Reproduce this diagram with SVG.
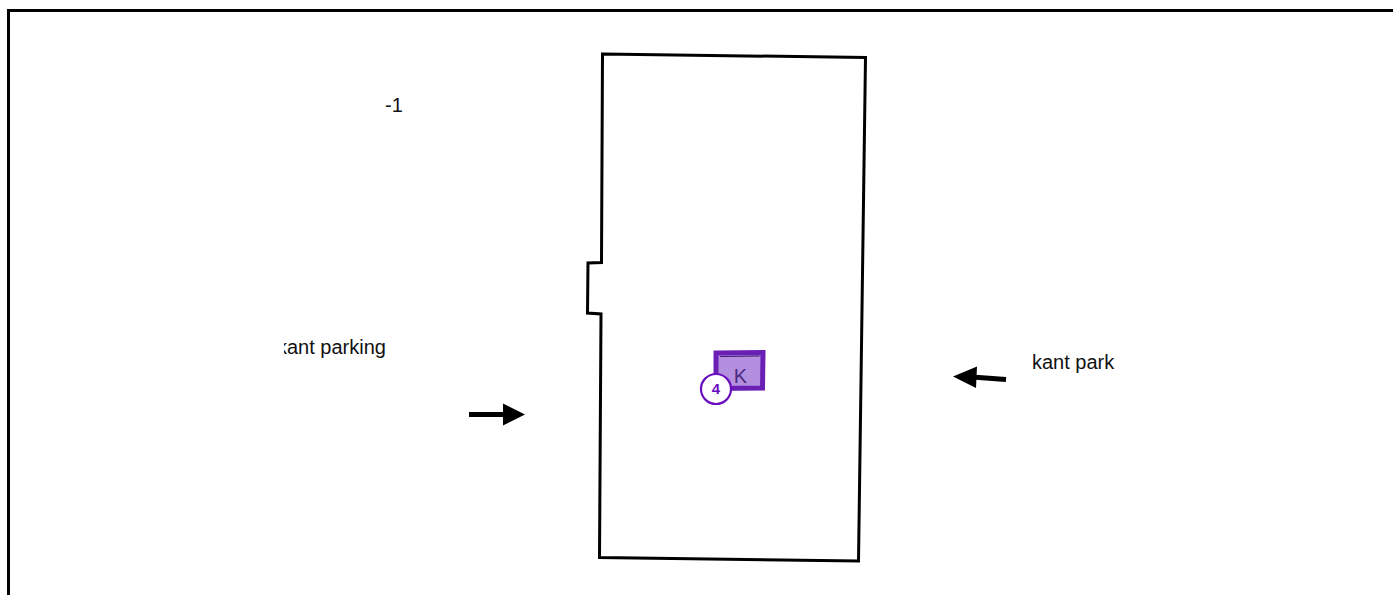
<svg xmlns="http://www.w3.org/2000/svg" width="1393" height="595" viewBox="0 0 1393 595">
<style>
.t{font-family:"Liberation Sans",Arial,sans-serif;font-size:20px;fill:#111}
.a{fill:none;stroke:#000;stroke-width:5}
.h{fill:#000}
</style>
<defs><clipPath id="c"><rect x="284" y="330" width="110" height="32"/></clipPath></defs>
<rect width="1393" height="595" fill="#fff"/>
<path id="frame" d="M8.500 595V10.500H1393" fill="none" stroke="#000" stroke-width="3"/>
<g id="building"><path d="M602.500 54L865.500 57.500L858.500 561L599.500 557.500L601 314L587.500 313L588 263L601.500 262.500Z" fill="#fff" stroke="#000" stroke-width="3"/></g>
<g id="room-k">
<path d="M716 353L763 352.500L762.500 388L716 388.500Z" fill="#b48fe0" stroke="#6a1fb5" stroke-width="5"/>
<path d="M720 356.500L759.500 356" fill="none" stroke="#3b1a70" stroke-width="1"/>
<text x="740.500" y="383" text-anchor="middle" style="font-family:'Liberation Sans',Arial,sans-serif;font-size:20px;fill:#4a2a80">K</text>
</g>
<g id="badge-4">
<circle cx="716" cy="389" r="15" fill="#fff" stroke="#6a0fc0" stroke-width="2.200"/>
<text x="716" y="394" text-anchor="middle" style="font-family:'Liberation Sans',Arial,sans-serif;font-size:15px;font-weight:700;fill:#6a0fc0">4</text>
</g>
<g id="connectors">
<path class="a" d="M469 414.500H506"/><path class="h" d="M503 403.500L525 414.500L503 425.500Z"/>
<path class="a" d="M1006 379.500L972 377"/><path class="h" d="M977 366.500L953 376.500L976 388Z"/>
</g>
<text id="label-minus1" class="t" x="385" y="112">-1</text>
<g clip-path="url(#c)"><text id="label-left" class="t" x="277" y="354">kant parking</text></g>
<text id="label-right" class="t" x="1032" y="369">kant park</text>
</svg>
